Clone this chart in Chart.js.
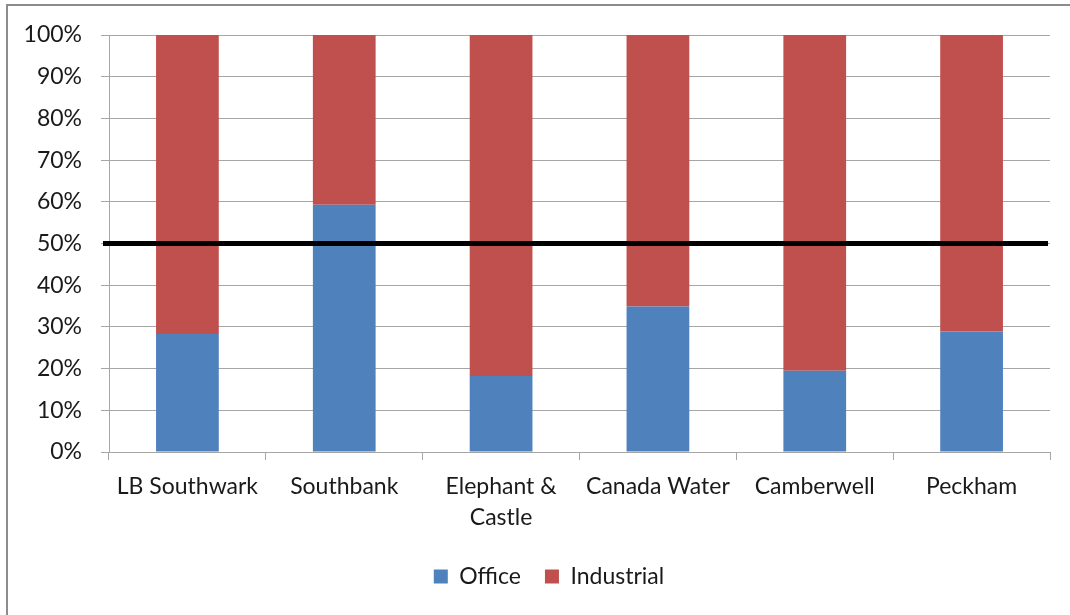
<!DOCTYPE html>
<html>
<head>
<meta charset="utf-8">
<script src="https://cdn.jsdelivr.net/npm/chart.js@4"></script>
<style>
  body { margin: 0; background: #fff; }
  #frame { position: absolute; left: 6px; top: 4px; width: 1070px; height: 620px; border: 2px solid #8c8c8c; }
  #wrap { position: absolute; left: 0; top: 0; width: 1070px; height: 615px; }
</style>
</head>
<body>
<div id="frame"></div>
<div id="wrap"><canvas id="myChart" width="1070" height="615"></canvas></div>
<script>
const categories = ['LB Southwark', 'Southbank', ['Elephant &', 'Castle'], 'Canada Water', 'Camberwell', 'Peckham'];
const officeShare = [28.3, 59.3, 18.2, 34.9, 19.5, 28.9];
const industrialShare = [71.7, 40.7, 81.8, 65.1, 80.5, 71.1];
const seriesNames = ['Office', 'Industrial'];
const yTickStep = 10;
const threshold = 50;

const gridGrey = '#a6a6a6';
const textColor = '#1a1a1a';

// thick black reference line across the plot
const thresholdLine = {
    id: 'thresholdLine',
    afterLayout(chart) {
        // nudge the legend a bit to the right
        chart.legend.left += 24;
        chart.legend.right += 24;
    },
    afterDatasetsDraw(chart) {
        const ctx = chart.ctx;
        const area = chart.chartArea;
        const y = chart.scales.y.getPixelForValue(threshold);
        ctx.save();
        ctx.strokeStyle = '#000';
        ctx.lineWidth = 5;
        ctx.beginPath();
        ctx.moveTo(area.left - 6, y);
        ctx.lineTo(area.right - 2, y);
        ctx.stroke();
        ctx.restore();
    }
};

function creationChart() {
    var ctx = document.getElementById('myChart').getContext('2d');
    new Chart(ctx, {
        type: 'bar',
        data: {
            labels: categories,
            datasets: [{
                label: seriesNames[0],
                data: officeShare,
                backgroundColor: '#4f81bd',
                barPercentage: 0.4,
                categoryPercentage: 1
            }, {
                label: seriesNames[1],
                data: industrialShare,
                backgroundColor: '#c0504d',
                barPercentage: 0.4,
                categoryPercentage: 1
            }]
        },
        options: {
            responsive: false,
            devicePixelRatio: 1,
            animation: false,
            layout: { padding: { left: 0, right: 20, top: 35, bottom: 17 } },
            font: { family: 'Lato', size: 23 },
            plugins: {
                tooltip: { enabled: false },
                legend: {
                    position: 'bottom',
                    labels: {
                        color: textColor,
                        font: { family: 'Lato', size: 23 },
                        boxWidth: 14,
                        boxHeight: 14,
                        padding: 24
                    }
                }
            },
            scales: {
                x: {
                    stacked: true,
                    afterFit(scale) { scale.height = 89; },
                    grid: { drawOnChartArea: false, drawTicks: true, tickLength: 8, color: gridGrey },
                    border: { color: gridGrey },
                    ticks: {
                        color: textColor,
                        font: { family: 'Lato', size: 23, lineHeight: 1.35 },
                        maxRotation: 0,
                        autoSkip: false,
                        padding: 11
                    }
                },
                y: {
                    stacked: true,
                    min: 0,
                    max: 100,
                    afterFit(scale) { scale.width = 109; },
                    grid: { color: gridGrey, tickLength: 8 },
                    border: { color: gridGrey },
                    ticks: {
                        stepSize: yTickStep,
                        color: textColor,
                        font: { family: 'Lato', size: 23 },
                        padding: 19,
                        callback: v => v + '%'
                    }
                }
            }
        },
        plugins: [thresholdLine]
    });
}

creationChart();
</script>
</body>
</html>
